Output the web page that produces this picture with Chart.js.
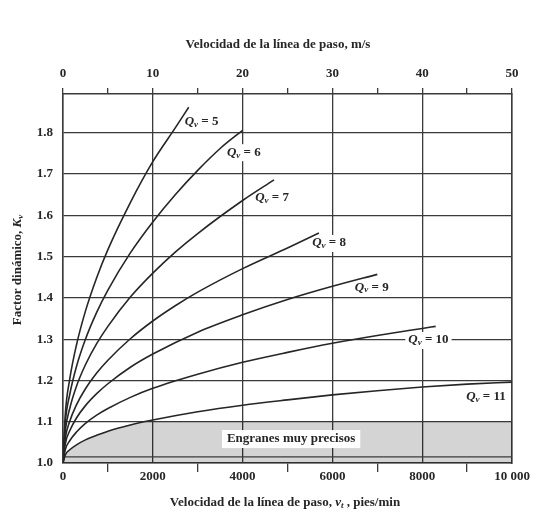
<!DOCTYPE html>
<html>
<head>
<meta charset="utf-8">
<script src="https://cdn.jsdelivr.net/npm/chart.js@4.4.1/dist/chart.umd.min.js"></script>
<style>
  html, body { margin: 0; padding: 0; background: #fff; }
  #wrap { width: 537px; height: 523px; position: relative; }
</style>
</head>
<body>
<div id="wrap"><canvas id="kvChart"></canvas></div>
<script>
// Curves of the dynamic factor Kv against pitch-line speed (ft/min), one per quality Qv
const qualities = [5, 6, 7, 8, 9, 10, 11];

const speeds5 = [0, 50, 150, 300, 500, 750, 1000, 1500, 2000, 2500, 2800];
const kv5 = [1.0, 1.117, 1.203, 1.286, 1.368, 1.449, 1.517, 1.631, 1.73, 1.812, 1.862];

const speeds6 = [0, 50, 150, 300, 500, 750, 1000, 1500, 2000, 2500, 3000, 3500, 4000];
const kv6 = [1.0, 1.097, 1.166, 1.234, 1.3, 1.365, 1.419, 1.509, 1.584, 1.65, 1.709, 1.762, 1.806];

const speeds7 = [0, 50, 150, 300, 500, 750, 1000, 1500, 2000, 2500, 3000, 4000, 4700];
const kv7 = [1.0, 1.077, 1.132, 1.186, 1.238, 1.289, 1.331, 1.402, 1.46, 1.511, 1.556, 1.636, 1.686];

const speeds8 = [0, 50, 150, 300, 500, 750, 1000, 1500, 2000, 2500, 3000, 4000, 5000, 5700];
const kv8 = [1.0, 1.059, 1.101, 1.141, 1.18, 1.218, 1.249, 1.301, 1.344, 1.381, 1.414, 1.471, 1.521, 1.557];

const speeds9 = [0, 50, 150, 300, 500, 750, 1000, 1500, 2000, 3000, 4000, 5000, 6000, 7000];
const kv9 = [1.0, 1.046, 1.078, 1.109, 1.139, 1.168, 1.192, 1.232, 1.264, 1.317, 1.359, 1.396, 1.428, 1.457];

const speeds10 = [0, 50, 150, 300, 500, 750, 1000, 1500, 2000, 3000, 4000, 5000, 6000, 7000, 8000, 8300];
const kv10 = [1.0, 1.032, 1.054, 1.075, 1.096, 1.116, 1.132, 1.159, 1.181, 1.215, 1.244, 1.268, 1.29, 1.309, 1.326, 1.331];

const speeds11 = [0, 50, 150, 300, 500, 750, 1000, 1500, 2000, 3000, 4000, 5000, 6000, 7000, 8000, 9000, 10000];
const kv11 = [1.0, 1.019, 1.032, 1.044, 1.056, 1.067, 1.077, 1.092, 1.104, 1.124, 1.14, 1.153, 1.165, 1.175, 1.184, 1.191, 1.196];

// "Engranes muy precisos" shaded zone: under Qv = 11 up to Kv = 1.1
const preciseSpeeds = [0, 50, 150, 300, 500, 750, 1000, 1500, 1850, 10000];
const preciseTop = [1.0, 1.019, 1.032, 1.044, 1.056, 1.067, 1.077, 1.092, 1.1, 1.1];
const edgeSpeeds = [0, 10000];
const edgeKv = [1.015, 1.015];

// label anchors (ft/min, Kv)
const labelSpots = [[2710, 1.828], [3650, 1.753], [4280, 1.642], [5550, 1.533], [6500, 1.426], [7690, 1.298], [8980, 1.16]];
const preciseSpot = [5080, 1.058];

const serif = '"Liberation Serif", "DejaVu Serif", serif';
const ink = '#262626';
const gridInk = '#3a3a3a';

const zip = (xs, ys) => xs.map((v, i) => ({ x: v, y: ys[i] }));

const curveData = [
  zip(speeds5, kv5), zip(speeds6, kv6), zip(speeds7, kv7), zip(speeds8, kv8),
  zip(speeds9, kv9), zip(speeds10, kv10), zip(speeds11, kv11),
];

function measure(ctx, parts) {
  let w = 0;
  parts.forEach(p => { ctx.font = p.font; w += ctx.measureText(p.text).width; });
  return w;
}

function drawRich(ctx, parts, x, y) {
  ctx.textBaseline = 'middle';
  ctx.textAlign = 'left';
  let cx = x;
  parts.forEach(p => {
    ctx.font = p.font;
    ctx.fillText(p.text, cx, y + (p.dy || 0));
    cx += ctx.measureText(p.text).width;
  });
}

const bold = size => 'bold ' + size + 'px ' + serif;
const ital = size => 'italic bold ' + size + 'px ' + serif;

const qvParts = q => [
  { text: 'Q', font: ital(13) },
  { text: 'v', font: ital(9), dy: 3 },
  { text: ' = ' + q, font: bold(13) },
];

const annotations = {
  id: 'annotations',
  // white patches behind the Qv labels break the grid, not the curves
  beforeDatasetsDraw(chart) {
    const { ctx, scales: { x, y } } = chart;
    ctx.save();
    ctx.fillStyle = '#fff';
    qualities.forEach((q, i) => {
      const px = x.getPixelForValue(labelSpots[i][0]);
      const py = y.getPixelForValue(labelSpots[i][1]);
      ctx.fillRect(px - 3, py - 8, measure(ctx, qvParts(q)) + 6, 17);
    });
    ctx.restore();
  },
  afterDatasetsDraw(chart) {
    const { ctx, scales: { x, y } } = chart;
    ctx.save();
    ctx.fillStyle = ink;
    qualities.forEach((q, i) => {
      const px = x.getPixelForValue(labelSpots[i][0]);
      const py = y.getPixelForValue(labelSpots[i][1]);
      drawRich(ctx, qvParts(q), px, py);
    });

    const parts = [{ text: 'Engranes muy precisos', font: bold(13) }];
    const w = measure(ctx, parts);
    const px = x.getPixelForValue(preciseSpot[0]);
    const py = y.getPixelForValue(preciseSpot[1]);
    ctx.fillStyle = '#fff';
    ctx.fillRect(px - w / 2 - 5, py - 9, w + 10, 18);
    ctx.fillStyle = ink;
    drawRich(ctx, parts, px - w / 2, py);
    ctx.restore();
  },
  afterDraw(chart) {
    const { ctx } = chart;
    ctx.save();
    ctx.fillStyle = ink;

    const top = [{ text: 'Velocidad de la línea de paso, m/s', font: bold(13) }];
    drawRich(ctx, top, 278 - measure(ctx, top) / 2, 45);

    const bottom = [
      { text: 'Velocidad de la línea de paso, ', font: bold(13) },
      { text: 'v', font: ital(13) },
      { text: 't', font: ital(9), dy: 3 },
      { text: ' , pies/min', font: bold(13) },
    ];
    drawRich(ctx, bottom, 285 - measure(ctx, bottom) / 2, 503);

    const side = [
      { text: 'Factor dinámico, ', font: bold(13) },
      { text: 'K', font: ital(13) },
      { text: 'v', font: ital(9), dy: 3 },
    ];
    ctx.translate(18, 270);
    ctx.rotate(-Math.PI / 2);
    drawRich(ctx, side, -measure(ctx, side) / 2, 0);
    ctx.restore();
  },
};

const tickFont = { family: serif, size: 13, weight: 'bold' };

new Chart(document.getElementById('kvChart'), {
  type: 'line',
  data: {
    datasets: [
      {
        data: zip(preciseSpeeds, preciseTop),
        fill: 'start',
        backgroundColor: 'rgba(0,0,0,0.17)',
        borderWidth: 0,
        pointRadius: 0,
        order: 10,
      },
      {
        data: zip(edgeSpeeds, edgeKv),
        borderColor: gridInk,
        borderWidth: 1.3,
        pointRadius: 0,
        fill: false,
        order: 5,
      },
      ...curveData.map(d => ({
        data: d,
        borderColor: ink,
        borderWidth: 1.6,
        pointRadius: 0,
        cubicInterpolationMode: 'monotone',
        fill: false,
        order: 0,
      })),
    ],
  },
  options: {
    responsive: true,
    maintainAspectRatio: false,
    animation: false,
    layout: { padding: 0 },
    plugins: { legend: { display: false }, tooltip: { enabled: false } },
    scales: {
      x: {
        type: 'linear',
        position: 'bottom',
        min: 0,
        max: 10000,
        afterFit: s => { s.height = 60; },
        border: { color: gridInk, width: 1.5 },
        grid: {
          color: c => (c.tick && c.tick.value % 2000 === 0 ? gridInk : 'rgba(0,0,0,0)'),
          tickColor: c => (c.tick && c.tick.value % 2000 === 0 ? 'rgba(0,0,0,0)' : gridInk),
          lineWidth: 1.3,
          tickWidth: 1.3,
          tickLength: 9,
        },
        ticks: {
          stepSize: 1000,
          autoSkip: false,
          maxRotation: 0,
          padding: -3,
          color: ink,
          font: tickFont,
          callback: v => (v % 2000 === 0 ? (v === 10000 ? '10 000' : String(v)) : ''),
        },
      },
      x2: {
        type: 'linear',
        position: 'top',
        min: 0,
        max: 50,
        afterFit: s => { s.height = 94; },
        border: { color: gridInk, width: 1.5 },
        grid: { drawOnChartArea: false, color: gridInk, lineWidth: 1.3, tickLength: 6 },
        ticks: {
          stepSize: 5,
          autoSkip: false,
          maxRotation: 0,
          padding: 7,
          color: ink,
          font: tickFont,
          callback: v => (v % 10 === 0 ? String(v) : ''),
        },
      },
      y: {
        min: 1.0,
        max: 1.894,
        afterFit: s => { s.width = 63; },
        border: { color: gridInk, width: 1.5 },
        grid: { color: gridInk, lineWidth: 1.3, drawTicks: false },
        ticks: {
          stepSize: 0.1,
          includeBounds: false,
          padding: 10,
          color: ink,
          font: tickFont,
          callback: v => v.toFixed(1),
        },
      },
      y2: {
        position: 'right',
        min: 1.0,
        max: 1.894,
        afterFit: s => { s.width = 25; },
        border: { color: gridInk, width: 1.5 },
        grid: { drawOnChartArea: false, drawTicks: false },
        ticks: { display: false },
      },
    },
  },
  plugins: [annotations],
});
</script>
</body>
</html>
